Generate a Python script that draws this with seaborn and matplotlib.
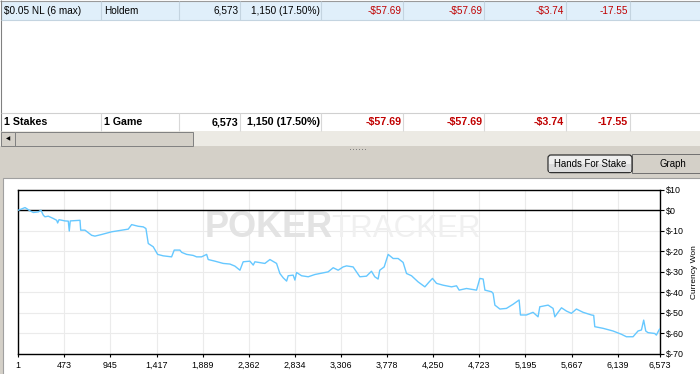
import matplotlib
matplotlib.use("Agg")
import matplotlib.pyplot as plt
import seaborn as sns
import pandas as pd
from matplotlib.patches import Rectangle, FancyBboxPatch

# ---------------- data ----------------
hands = [1, 70, 121, 155, 206, 233, 257, 274, 308, 359, 394, 404, 418, 479, 513, 523,
         533, 633, 640, 684, 752, 786, 855, 957, 1060, 1127, 1162, 1229, 1281, 1308,
         1332, 1383, 1428, 1485, 1571, 1598, 1656, 1674, 1725, 1792, 1827, 1878, 1930,
         1946, 2015, 2100, 2168, 2219, 2271, 2304, 2373, 2407, 2424, 2526, 2578, 2646,
         2680, 2714, 2749, 2765, 2816, 2834, 2851, 2902, 2970, 3038, 3174, 3226, 3277,
         3328, 3363, 3430, 3499, 3567, 3618, 3652, 3686, 3703, 3748, 3789, 3840, 3891,
         3942, 3977, 4028, 4096, 4165, 4209, 4243, 4284, 4352, 4438, 4489, 4516, 4591,
         4694, 4728, 4762, 4780, 4848, 4864, 4882, 4933, 5000, 5068, 5130, 5144, 5205,
         5273, 5324, 5342, 5427, 5478, 5496, 5529, 5564, 5615, 5666, 5717, 5785, 5871,
         5894, 5905, 5990, 6092, 6178, 6229, 6297, 6348, 6383, 6406, 6427, 6450, 6519,
         6536, 6563, 6573]
won = [0.0, 1.3, -0.3, -1.1, -0.8, 0.0, -2.4, -3.2, -2.9, -4.0, -4.9, -6.2, -4.6, -5.2, -5.3, -10.1,
       -5.2, -4.9, -9.7, -9.7, -12.2, -12.6, -11.8, -10.5, -9.7, -9.2, -7.0, -7.8, -8.1, -8.9,
       -16.2, -17.8, -21.5, -22.2, -22.7, -19.4, -19.4, -20.5, -21.5, -22.0, -22.7, -22.7, -21.5,
       -24.0, -24.8, -25.9, -26.2, -27.2, -29.2, -25.1, -24.8, -26.7, -25.1, -25.9, -24.0, -25.9,
       -30.8, -32.9, -34.5, -31.9, -31.6, -34.0, -30.3, -31.9, -32.4, -31.3, -30.0, -28.0, -29.2,
       -27.6, -27.1, -27.6, -32.4, -32.1, -29.7, -32.4, -33.5, -29.2, -27.6, -21.5, -23.5, -23.5,
       -25.4, -30.8, -31.9, -34.9, -37.3, -34.9, -33.2, -35.6, -36.5, -37.3, -36.8, -38.9, -38.1,
       -38.9, -33.2, -33.5, -38.9, -39.7, -40.5, -46.2, -48.1, -47.8, -45.8, -43.7, -51.0, -51.0,
       -49.7, -51.9, -47.0, -46.2, -47.8, -51.9, -49.7, -47.5, -49.1, -50.2, -48.1, -49.7, -51.0,
       -51.2, -56.7, -57.5, -58.8, -60.4, -61.6, -61.6, -58.8, -58.3, -53.5, -58.8, -59.6, -60.0,
       -60.8, -58.3, -57.69]

x_ticks = [1, 473, 945, 1417, 1889, 2362, 2834, 3306, 3778, 4250, 4723, 5195, 5667, 6139, 6573]
y_ticks = [10, 0, -10, -20, -30, -40, -50, -60, -70]
y_label = "Currency Won"

stake_row = ["$0.05 NL (6 max)", "Holdem", "6,573", "1,150 (17.50%)",
             "-$57.69", "-$57.69", "-$3.74", "-17.55"]
total_row = ["1 Stakes", "1 Game", "6,573", "1,150 (17.50%)",
             "-$57.69", "-$57.69", "-$3.74", "-17.55"]
tab_labels = ["Hands For Stake", "Graph"]
watermark = ["POKER", "TRACKER"]

# ---------------- layout / style ----------------
W, H = 700, 374
sns.set_theme(style="white")
plt.rcParams["font.family"] = ["Liberation Sans", "DejaVu Sans"]
UI_GRAY = "#D4D0C8"
RED = "#C00000"

fig = plt.figure(figsize=(W / 100, H / 100), dpi=100, facecolor=UI_GRAY)

# background "window" axes in pixel coordinates
bg = fig.add_axes([0, 0, 1, 1])
bg.set_xlim(0, W)
bg.set_ylim(H, 0)
bg.axis("off")

def rect(x0, y0, x1, y1, fc, ec="none", lw=0.0, z=1):
    bg.add_patch(Rectangle((x0, y0), x1 - x0, y1 - y0, facecolor=fc,
                           edgecolor=ec, linewidth=lw, zorder=z))

def hline(y, x0, x1, c, lw=0.8, z=3):
    bg.plot([x0, x1], [y, y], color=c, lw=lw, zorder=z, solid_capstyle="butt")

def vline(x, y0, y1, c, lw=0.8, z=3):
    bg.plot([x, x], [y0, y1], color=c, lw=lw, zorder=z, solid_capstyle="butt")

# table area
rect(0, 0, W, 131, "white")
rect(1, 1, W, 19.5, "#E0EFFA")
hline(0.5, 0, W, "#9A9A9A")
vline(0.5, 0, 131, "#808080")
hline(19.6, 1, W, "#C4D4E0")
hline(113.3, 1, W, "#D0D0D0")

seps = [101.3, 178.6, 240.2, 321.4, 403.1, 484.4, 566.0, 629.5]
col_x = [4, 104, 238.4, 319.6, 401.3, 482.6, 564.2, 627.7]
col_ha = ["left", "left", "right", "right", "right", "right", "right", "right"]
col_c = ["black", "black", "black", "black", RED, RED, RED, RED]
for s in seps:
    vline(s, 1, 19.5, "#C4D4E0")
    vline(s, 113.3, 130.7, "#D8D8D8")
for i, txt in enumerate(stake_row):
    bg.text(col_x[i], 10.8, txt, ha=col_ha[i], va="center", fontsize=7.2,
            color=col_c[i], zorder=5)
for i, txt in enumerate(total_row):
    bg.text(col_x[i], 122, txt, ha=col_ha[i], va="center",
            fontsize=7.7, color=col_c[i], fontweight="bold", zorder=5)

# scrollbar
rect(0, 130.8, W, 146, "#ECEAE4")
rect(1, 131.5, 15, 145.5, UI_GRAY, ec="#808080", lw=0.7, z=2)
rect(15, 131.5, 193, 145.5, UI_GRAY, ec="#808080", lw=0.7, z=2)
bg.text(8, 138.6, "\u25C0", ha="center", va="center", fontsize=4,
        color="black", family="DejaVu Sans", zorder=5)

# splitter grip
bg.text(358, 150.5, "\u00B7\u00B7\u00B7\u00B7\u00B7\u00B7", ha="center", va="center",
        fontsize=7, color="#707070", family="DejaVu Sans", zorder=5)

# tabs
rect(632, 154.3, W + 2, 173.3, UI_GRAY, ec="#707070", lw=0.7, z=2)
bg.add_patch(FancyBboxPatch((548, 155), 84, 17.6, boxstyle="round,pad=0,rounding_size=3",
                            facecolor="#EFEFEF", edgecolor="#303030", lw=0.9, zorder=3))
rect(549, 164, 631, 171.8, "#DCDCDC", z=3.5)
bg.text(590, 164, tab_labels[0], ha="center", va="center", fontsize=6.9,
        color="black", zorder=5)
bg.text(673, 164, tab_labels[1], ha="center", va="center", fontsize=6.9,
        color="black", zorder=5)

# chart panel
rect(3, 178.3, W + 2, H + 2, "white", ec="#A0A0A0", lw=0.8)

# ---------------- chart ----------------
left, right, top, bottom = 18.3, 660.0, 189.7, 354.0
ax = fig.add_axes([left / W, 1 - bottom / H, (right - left) / W, (bottom - top) / H])
ax.set_facecolor("white")

df = pd.DataFrame({"Hands": hands, "Won": won})
sns.lineplot(data=df, x="Hands", y="Won", ax=ax, color="#66C8FF", linewidth=1.0,
             estimator=None, zorder=4)

ax.set_xlim(x_ticks[0], x_ticks[-1])
ax.set_ylim(y_ticks[-1], y_ticks[0])
ax.set_xticks(x_ticks)
ax.set_xticklabels([f"{v:,}" for v in x_ticks])
ax.set_yticks(y_ticks)
ax.set_yticklabels([f"${v}" for v in y_ticks])
ax.yaxis.tick_right()
ax.yaxis.set_label_position("right")
ax.set_xlabel("")
ax.set_ylabel(y_label, fontsize=6.0, color="black")
ax.yaxis.label.set_verticalalignment("center")
ax.yaxis.set_label_coords(1.0545, 0.5)

ax.grid(True, color="#EBEBEB", linewidth=0.8, zorder=0)
ax.axhline(0, color="black", linewidth=1.0, zorder=3)
for sp in ax.spines.values():
    sp.set_visible(True)
    sp.set_color("black")
    sp.set_linewidth(1.0)

ax.tick_params(axis="x", bottom=True, length=2.0, width=0.8, pad=3.2,
               labelsize=6.4, colors="black", direction="out")
ax.tick_params(axis="y", right=True, left=False, length=3.0, width=0.8, pad=1.0,
               labelsize=6.4, colors="black", direction="out")

# watermark
ax.text(0.291, 0.712, watermark[0], transform=ax.transAxes, fontsize=26,
        fontweight="bold", color="#E3E3E3", ha="left", va="baseline", zorder=1)
ax.text(0.4875, 0.712, watermark[1], transform=ax.transAxes, fontsize=22.5,
        color="#F0F0F0", ha="left", va="baseline", zorder=1)

fig.savefig("out.png", dpi=100, facecolor=fig.get_facecolor())
